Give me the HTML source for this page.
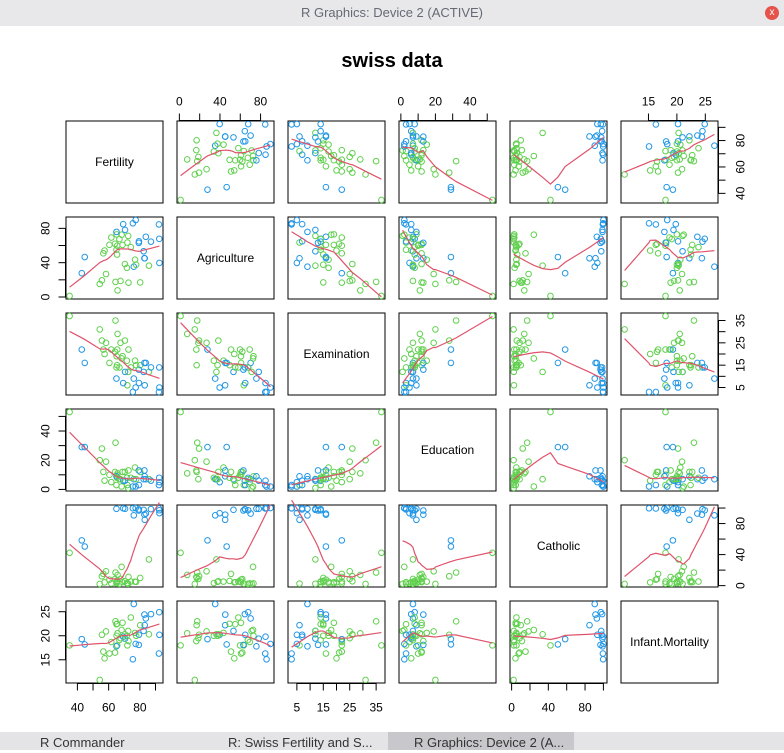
<!DOCTYPE html>
<html><head><meta charset="utf-8"><style>
body{margin:0;width:784px;height:750px;overflow:hidden;background:#fff;font-family:"Liberation Sans",sans-serif;}
#bar{position:absolute;left:0;top:0;width:784px;height:26px;background:#e8e8eb;color:#666a75;font-size:13px;text-align:center;line-height:26px;}
#task{position:absolute;left:0;top:732px;width:784px;height:18px;background:#e4e4e6;font-size:13px;color:#333;}
</style></head><body>
<div id="bar">R Graphics: Device 2 (ACTIVE)
<span style="position:absolute;right:5px;top:6px;width:14px;height:14px;border-radius:7px;background:#e5534b;color:#fff;font-size:10px;line-height:14px">x</span></div>
<svg id="chart" width="784" height="750" style="position:absolute;left:0;top:0"></svg>
<div id="task">
<span style="position:absolute;left:40px;top:3px">R Commander</span>
<span style="position:absolute;left:228px;top:3px">R: Swiss Fertility and S...</span>
<span style="position:absolute;left:388px;top:0;width:186px;height:18px;background:#c8c8cc;padding-left:26px;box-sizing:border-box;line-height:21px">R Graphics: Device 2 (A...</span>
</div>
<script>
const varNames=["Fertility","Agriculture","Examination","Education","Catholic","Infant.Mortality"];
const fertility=[80.2,83.1,92.5,85.8,76.9,76.1,83.8,92.4,82.4,82.9,87.1,64.1,66.9,68.9,61.7,68.3,71.7,55.7,54.3,65.1,65.5,65.0,56.6,57.4,72.5,74.2,72.0,60.5,58.3,65.4,75.5,69.3,77.3,70.5,79.4,65.0,92.2,79.3,70.4,65.7,72.7,64.4,77.6,67.6,35.0,44.7,42.8];
const agriculture=[17.0,45.1,39.7,36.5,43.5,35.3,70.2,67.8,53.3,45.2,64.5,62.0,67.5,60.7,69.3,72.6,34.0,19.4,15.2,73.0,59.8,55.1,50.9,54.1,71.2,58.1,63.5,60.8,26.8,49.5,85.9,84.9,89.7,78.2,64.9,75.9,84.6,63.1,38.4,7.7,16.7,17.6,37.6,18.7,1.2,46.6,27.7];
const examination=[15,6,5,12,17,9,16,14,12,16,14,21,14,19,22,18,17,26,31,19,22,14,22,20,12,14,6,16,25,15,3,7,5,12,7,9,3,13,26,29,22,35,15,25,37,16,22];
const education=[12,9,5,7,15,7,7,8,7,13,6,12,7,12,5,2,8,28,20,9,10,3,12,6,1,8,3,10,19,8,2,6,2,6,3,9,3,13,12,11,13,32,7,7,53,29,29];
const catholic=[9.96,84.84,93.40,33.77,5.16,90.57,92.85,97.16,97.67,91.38,98.61,8.52,2.27,4.43,2.82,24.20,3.30,12.11,2.15,2.84,5.23,4.52,15.14,4.20,2.40,5.23,2.56,7.72,18.46,6.10,99.71,99.68,100.00,98.96,98.22,99.06,99.46,96.83,5.62,13.79,11.22,16.92,4.97,8.65,42.34,50.43,58.33];
const infant=[22.2,22.2,20.2,20.3,20.6,26.6,23.6,24.9,21.0,24.4,24.5,16.5,19.1,22.7,18.7,21.2,20.0,20.2,10.8,20.0,18.0,22.4,16.7,15.3,21.0,23.8,18.0,16.3,20.9,22.5,15.1,19.8,18.3,19.4,20.2,17.8,16.3,18.1,20.3,20.5,18.9,23.0,20.0,19.5,18.0,18.2,19.3];
const tickVals=[[40,50,60,70,80,90],[0,20,40,60,80],[5,10,15,20,25,30,35],[0,10,20,30,40,50],[0,20,40,60,80,100],[15,20,25]];
const tickLabels=[[40,60,80],[0,40,80],[5,15,25,35],[0,20,40],[0,40,80],[15,20,25]];
const cols=[fertility,agriculture,examination,education,catholic,infant];

const svg=document.getElementById('chart');
const NS='http://www.w3.org/2000/svg';
function mk(t,a,p){const e=document.createElementNS(NS,t);for(const k in a)e.setAttribute(k,a[k]);(p||svg).appendChild(e);return e;}
const PX=[66,177,288,399,510,621],PY=[121,217,313,409,505,601],W=97,H=82;
const ranges=cols.map(c=>{const mn=Math.min(...c),mx=Math.max(...c),d=(mx-mn)*0.04;return[mn-d,mx+d];});
function sx(j,v){const r=ranges[j];return PX[j]+(v-r[0])/(r[1]-r[0])*W;}
function sy(i,v){const r=ranges[i];return PY[i]+H-(v-r[0])/(r[1]-r[0])*H;}
function lowess(x,y,f,iter){
  const n=x.length,idx=[...Array(n).keys()].sort((a,b)=>x[a]-x[b]);
  const xs=idx.map(i=>x[i]),ys=idx.map(i=>y[i]);const r=Math.ceil(f*n);
  let rw=new Array(n).fill(1),fit=new Array(n);
  for(let it=0;it<=iter;it++){
    for(let i=0;i<n;i++){
      const d=xs.map(v=>Math.abs(v-xs[i])).slice().sort((a,b)=>a-b);const h=Math.max(d[r-1],1e-9);
      let sw=0,swx=0,swy=0,swxx=0,swxy=0;
      for(let k=0;k<n;k++){let u=Math.abs(xs[k]-xs[i])/h;let w=u<1?Math.pow(1-u*u*u,3):0;w*=rw[k];
        sw+=w;swx+=w*xs[k];swy+=w*ys[k];swxx+=w*xs[k]*xs[k];swxy+=w*xs[k]*ys[k];}
      const mx=swx/sw,my=swy/sw,vx=swxx/sw-mx*mx;
      fit[i]=vx>1e-9?my+(swxy/sw-mx*my)/vx*(xs[i]-mx):my;
    }
    const res=ys.map((v,k)=>Math.abs(v-fit[k]));const s=res.slice().sort((a,b)=>a-b);const m=6*s[Math.floor(n/2)];
    rw=res.map(e=>{const u=m>0?e/m:0;return u<1?Math.pow(1-u*u,2):0;});
  }
  return xs.map((v,k)=>[v,fit[k]]);
}
const title=mk('text',{x:392,y:67,'text-anchor':'middle','font-size':20,'font-weight':'bold','font-family':'Liberation Sans, sans-serif'});
title.textContent='swiss data';


for(let i=0;i<6;i++)for(let j=0;j<6;j++){
  const g=mk('g',{});
  
  
  mk('rect',{x:PX[j],y:PY[i],width:W,height:H,fill:'none',stroke:'#000','stroke-width':1},g);
  if(i===j){
    const t=mk('text',{x:PX[j]+W/2,y:PY[i]+H/2+4,'text-anchor':'middle','font-size':12,'font-family':'Liberation Sans, sans-serif'},g);
    t.textContent=varNames[i];
    
    
    continue;
  }
  const xv=cols[j],yv=cols[i];
  for(let k=0;k<xv.length;k++){
    const c=mk('circle',{cx:sx(j,xv[k]),cy:sy(i,yv[k]),r:2.8,fill:'none',stroke:catholic[k]>45?'#2297E6':'#61D04F','stroke-width':1},g);
    
    
  }
  const lw=lowess(xv,yv,2/3,3);
  const pl=mk('polyline',{points:lw.map(p=>sx(j,p[0])+','+sy(i,p[1])).join(' '),fill:'none',stroke:'#DF536B','stroke-width':1.2},g);
  
  
}
function axis(side,k){
  const g=mk('g',{stroke:'#000'});
  
  
  const tv=tickVals[k],tl=tickLabels[k];
  if(side==='top'||side==='bottom'){
    const y0=side==='top'?PY[0]-0.5:PY[5]+H+0.5,dir=side==='top'?-1:1;
    mk('line',{x1:sx(k,tv[0]),x2:sx(k,tv[tv.length-1]),y1:y0,y2:y0},g);
    tv.forEach(v=>mk('line',{x1:sx(k,v),x2:sx(k,v),y1:y0,y2:y0+dir*7},g));
    tl.forEach(v=>{const t=mk('text',{x:sx(k,v),y:side==='top'?y0-15:y0+28,'text-anchor':'middle','font-size':12,stroke:'none','font-family':'Liberation Sans, sans-serif'},g);t.textContent=v;});
  }else{
    const x0=side==='left'?PX[0]-0.5:PX[5]+W+0.5,dir=side==='left'?-1:1;
    mk('line',{y1:sy(k,tv[0]),y2:sy(k,tv[tv.length-1]),x1:x0,x2:x0},g);
    tv.forEach(v=>mk('line',{y1:sy(k,v),y2:sy(k,v),x1:x0,x2:x0+dir*7},g));
    tl.forEach(v=>{const xx=side==='left'?x0-16:x0+26;const t=mk('text',{x:xx,y:sy(k,v),'text-anchor':'middle','font-size':12,stroke:'none','font-family':'Liberation Sans, sans-serif',transform:'rotate(-90 '+xx+' '+sy(k,v)+')'},g);t.textContent=v;});
  }
}
[1,3,5].forEach(k=>axis('top',k));
[0,2,4].forEach(k=>axis('bottom',k));
[1,3,5].forEach(k=>axis('left',k));
[0,2,4].forEach(k=>axis('right',k));
</script>
</body></html>
